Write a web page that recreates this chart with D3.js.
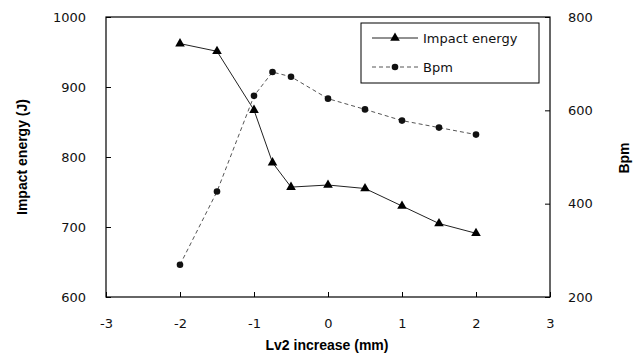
<!DOCTYPE html>
<html><head><meta charset="utf-8">
<script src="https://cdn.jsdelivr.net/npm/d3@7"></script>
<style>body{margin:0;background:#fff}svg{display:block}</style>
</head><body>
<svg id="c" width="643" height="356"></svg>
<script>
const xValues = [-2, -1.5, -1, -0.75, -0.5, 0, 0.5, 1, 1.5, 2];
const impactEnergy = [962, 951, 867, 792, 757, 760, 755, 730, 705, 691];
const bpm = [269, 426, 631, 682, 672, 625, 602, 578, 563, 548];
const xTicks = [-3, -2, -1, 0, 1, 2, 3];
const leftTicks = [600, 700, 800, 900, 1000];
const rightTicks = [200, 400, 600, 800];
const seriesNames = ["Impact energy", "Bpm"];

const svg = d3.select("#c");
const L = 106, R = 550, T = 17, B = 297;
const x = d3.scaleLinear().domain([-3, 3]).range([L, R]);
const yL = d3.scaleLinear().domain([600, 1000]).range([B, T]);
const yR = d3.scaleLinear().domain([200, 800]).range([B, T]);
const font = "'DejaVu Sans', Verdana, sans-serif";

// frame
svg.append("rect").attr("x", L).attr("y", T).attr("width", R - L).attr("height", B - T)
  .attr("fill", "none").attr("stroke", "#000").attr("stroke-width", 1.2);

const gx = svg.append("g").attr("transform", `translate(0,${B})`)
  .call(d3.axisBottom(x).tickValues(xTicks).tickSize(-5).tickPadding(22).tickFormat(d3.format("d")));
const gl = svg.append("g").attr("transform", `translate(${L},0)`)
  .call(d3.axisLeft(yL).tickValues(leftTicks).tickSize(-5).tickPadding(20).tickFormat(d3.format("d")));
const gr = svg.append("g").attr("transform", `translate(${R},0)`)
  .call(d3.axisRight(yR).tickValues(rightTicks).tickSize(-5).tickPadding(18).tickFormat(d3.format("d")));
[gx, gl, gr].forEach(g => {
  g.select(".domain").remove();
  g.selectAll("line").attr("stroke", "#000");
  g.selectAll("text").attr("font-family", font).attr("font-size", 13).attr("fill", "#111");
});
gx.selectAll("text").text(d => d < 0 ? "-" + Math.abs(d) : d);

// lines
const lineL = d3.line().x((d, i) => x(xValues[i])).y(d => yL(d));
const lineR = d3.line().x((d, i) => x(xValues[i])).y(d => yR(d));
svg.append("path").datum(impactEnergy).attr("d", lineL).attr("fill", "none")
  .attr("stroke", "#222").attr("stroke-width", 1);
svg.append("path").datum(bpm).attr("d", lineR).attr("fill", "none")
  .attr("stroke", "#555").attr("stroke-width", 1).attr("stroke-dasharray", "4,3");

const tri = d3.symbol().type(d3.symbolTriangle).size(40);
svg.append("g").selectAll("path").data(impactEnergy).join("path")
  .attr("d", tri).attr("transform", (d, i) => `translate(${x(xValues[i])},${yL(d)})`).attr("fill", "#000");
svg.append("g").selectAll("circle").data(bpm).join("circle")
  .attr("cx", (d, i) => x(xValues[i])).attr("cy", d => yR(d)).attr("r", 3.3).attr("fill", "#111");

// axis titles
svg.append("text").attr("x", 327).attr("y", 350).attr("text-anchor", "middle")
  .attr("font-family", "'Liberation Sans', Arial, sans-serif").attr("font-weight", "bold").attr("font-size", 14)
  .text("Lv2 increase (mm)");
svg.append("text").attr("transform", "translate(27,157) rotate(-90)").attr("text-anchor", "middle")
  .attr("font-family", "'Liberation Sans', Arial, sans-serif").attr("font-weight", "bold").attr("font-size", 14)
  .text("Impact energy (J)");
svg.append("text").attr("transform", "translate(629,158) rotate(-90)").attr("text-anchor", "middle")
  .attr("font-family", "'Liberation Sans', Arial, sans-serif").attr("font-weight", "bold").attr("font-size", 14)
  .text("Bpm");

// legend
const lg = svg.append("g");
lg.append("rect").attr("x", 361).attr("y", 23).attr("width", 178).attr("height", 60)
  .attr("fill", "#fff").attr("stroke", "#000").attr("stroke-width", 1);
const rows = [38, 67];
lg.append("line").attr("x1", 372).attr("x2", 418).attr("y1", rows[0]).attr("y2", rows[0]).attr("stroke", "#222");
lg.append("path").attr("d", tri).attr("transform", `translate(395,${rows[0]})`).attr("fill", "#000");
lg.append("line").attr("x1", 372).attr("x2", 418).attr("y1", rows[1]).attr("y2", rows[1]).attr("stroke", "#555").attr("stroke-dasharray", "4,3");
lg.append("circle").attr("cx", 395).attr("cy", rows[1]).attr("r", 3.3).attr("fill", "#111");
seriesNames.forEach((n, i) => {
  lg.append("text").attr("x", 423).attr("y", rows[i] + 5).attr("font-family", font).attr("font-size", 13)
    .attr("fill", "#111").text(n);
});
</script>
</body></html>
